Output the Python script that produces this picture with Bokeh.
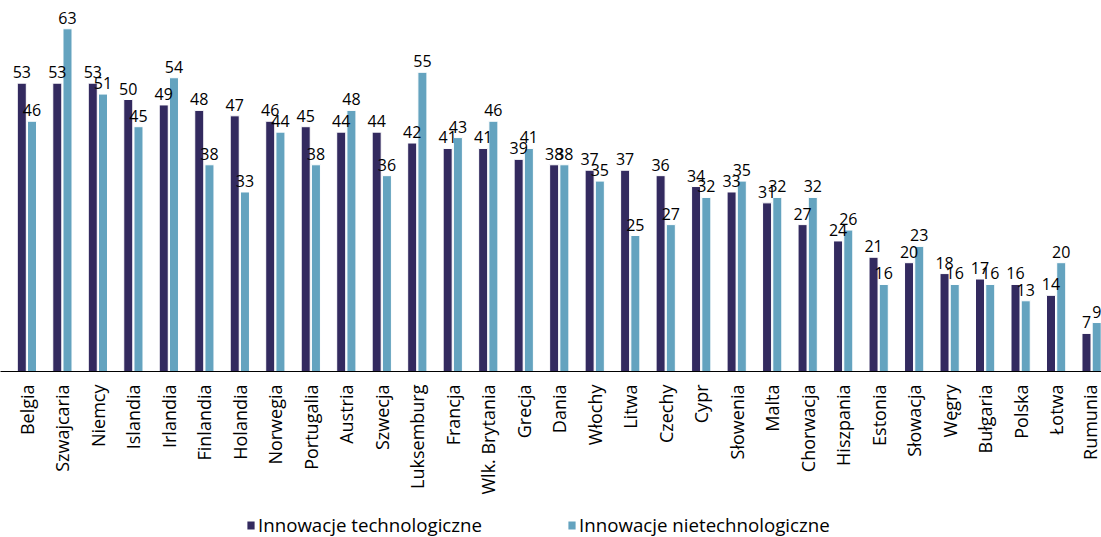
import math
from bokeh.plotting import figure
from bokeh.layouts import column
from bokeh.models import ColumnDataSource, Range1d, Legend, LegendItem, FixedTicker, LabelSet
from bokeh.core.properties import value
from bokeh.embed import file_html
from bokeh.resources import INLINE

countries = ["Belgia", "Szwajcaria", "Niemcy", "Islandia", "Irlandia", "Finlandia", "Holandia",
             "Norwegia", "Portugalia", "Austria", "Szwecja", "Luksemburg", "Francja",
             "Wlk. Brytania", "Grecja", "Dania", "Włochy", "Litwa", "Czechy", "Cypr",
             "Słowenia", "Malta", "Chorwacja", "Hiszpania", "Estonia", "Słowacja", "Węgry",
             "Bułgaria", "Polska", "Łotwa", "Rumunia"]
tech = [53, 53, 53, 50, 49, 48, 47, 46, 45, 44, 44, 42, 41, 41, 39, 38, 37, 37, 36, 34, 33, 31,
        27, 24, 21, 20, 18, 17, 16, 14, 7]
nontech = [46, 63, 51, 45, 54, 38, 33, 44, 38, 48, 36, 55, 43, 46, 41, 38, 35, 25, 27, 32, 35, 32,
           32, 26, 16, 23, 16, 16, 13, 20, 9]
series_names = ["Innowacje technologiczne", "Innowacje nietechnologiczne"]

DARK = "#332A5F"
LIGHT = "#64A3BF"
FONT = "Open Sans"

idx = list(range(len(countries)))
off = 0.144
bw = 0.254
src1 = ColumnDataSource(dict(x=[i - off for i in idx], top=tech, lab=[str(v) for v in tech]))
src2 = ColumnDataSource(dict(x=[i + off for i in idx], top=nontech, lab=[str(v) for v in nontech]))

p = figure(width=1101, height=512, output_backend="svg", toolbar_location=None,
           x_range=Range1d(-0.744, 30.279), y_range=Range1d(0, 68.2),
           min_border_left=0, min_border_right=0, min_border_top=0, min_border_bottom=141)
p.outline_line_color = None
p.grid.grid_line_color = None
p.yaxis.visible = False

r1 = p.vbar(x="x", top="top", width=bw, source=src1, fill_color=DARK, line_color="white", line_width=1)
r2 = p.vbar(x="x", top="top", width=bw, source=src2, fill_color=LIGHT, line_color="white", line_width=1)

for s in (src1, src2):
    p.add_layout(LabelSet(x="x", y="top", text="lab", source=s, text_align="center",
                          text_baseline="alphabetic", y_offset=5, text_font=value(FONT),
                          text_font_size="16px", text_color="#000000"))

ax = p.xaxis[0]
ax.ticker = FixedTicker(ticks=idx)
ax.major_label_overrides = {i: c for i, c in enumerate(countries)}
ax.major_label_orientation = math.pi / 2
ax.major_tick_line_color = None
ax.minor_tick_line_color = None
ax.axis_line_color = "#000000"
ax.axis_line_width = 1
ax.major_label_standoff = 7
ax.major_label_text_font = FONT
ax.major_label_text_font_size = "18px"
ax.major_label_text_color = "#000000"

# legend strip below the chart (key renderers have zero height, so they draw nothing)
lg = figure(width=1101, height=25, output_backend="svg", toolbar_location=None,
            x_range=Range1d(0, 1), y_range=Range1d(0, 1),
            min_border_left=0, min_border_right=0, min_border_top=0, min_border_bottom=0)
lg.outline_line_color = None
lg.grid.grid_line_color = None
lg.axis.visible = False
k1 = lg.vbar(x=[-5], top=[0], bottom=[0], width=0.01, fill_color=DARK, line_color=None)
k2 = lg.vbar(x=[-5], top=[0], bottom=[0], width=0.01, fill_color=LIGHT, line_color=None)

legend = Legend(items=[LegendItem(label=series_names[0], renderers=[k1]),
                       LegendItem(label=series_names[1], renderers=[k2])],
                orientation="horizontal", location=(246, 0), spacing=85,
                glyph_width=9, glyph_height=10, label_standoff=3,
                label_text_font=FONT, label_text_font_size="18.7px", label_text_color="#000000",
                border_line_color=None, background_fill_alpha=0, padding=0, margin=0)
lg.add_layout(legend, "center")

layout = column(p, lg, spacing=0)
open("out.html", "w").write(file_html(layout, INLINE))
